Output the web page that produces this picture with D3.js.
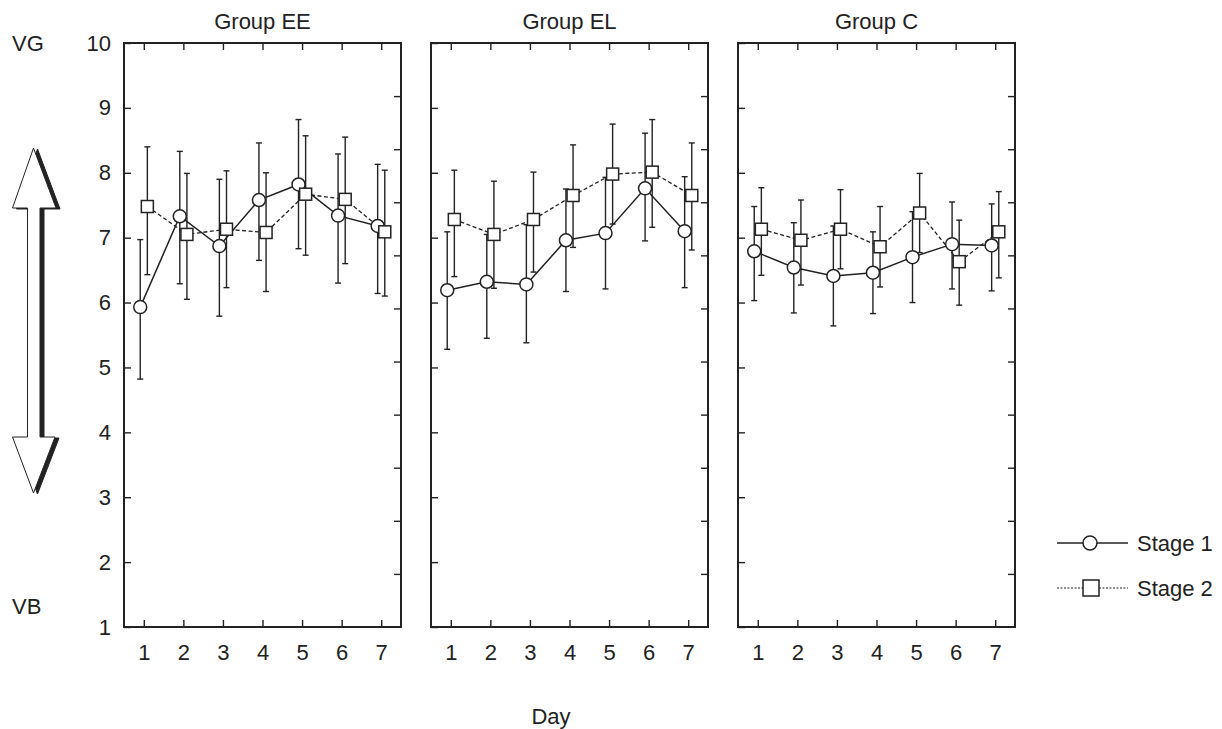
<!DOCTYPE html>
<html>
<head>
<meta charset="utf-8">
<script src="https://cdn.jsdelivr.net/npm/d3@7"></script>
<style>
  body { margin: 0; background: #fff; }
  text { font-family: "Liberation Sans", Arial, Helvetica, sans-serif; fill: #222; }
  .tick line { stroke: #222; stroke-width: 1.4; }
</style>
</head>
<body>
<div id="chart"></div>
<script>
// Panels, days and axis ticks.
var groups = ["Group EE", "Group EL", "Group C"];
var days = [1, 2, 3, 4, 5, 6, 7];
var yTicks = [1, 2, 3, 4, 5, 6, 7, 8, 9, 10];
var rightTicks = [1, 2, 3, 4, 5, 6, 7, 8, 9, 10];

// Stage 1 (circles): mean and error bar ends, one row per group (EE, EL, C).
var stage1Mean = [
  [5.93, 7.33, 6.87, 7.58, 7.82, 7.34, 7.18],
  [6.19, 6.32, 6.28, 6.96, 7.07, 7.76, 7.10],
  [6.79, 6.54, 6.41, 6.46, 6.70, 6.90, 6.88]
];
var stage1Lo = [
  [4.82, 6.29, 5.79, 6.65, 6.83, 6.30, 6.14],
  [5.28, 5.45, 5.38, 6.17, 6.21, 6.95, 6.23],
  [6.03, 5.84, 5.64, 5.83, 6.00, 6.21, 6.18]
];
var stage1Hi = [
  [6.97, 8.33, 7.90, 8.46, 8.82, 8.29, 8.13],
  [7.09, 7.05, 7.20, 7.75, 7.93, 8.61, 7.94],
  [7.48, 7.23, 7.18, 7.09, 7.40, 7.55, 7.52]
];

// Stage 2 (squares).
var stage2Mean = [
  [7.48, 7.05, 7.13, 7.08, 7.67, 7.59, 7.09],
  [7.28, 7.05, 7.28, 7.65, 7.98, 8.01, 7.65],
  [7.13, 6.96, 7.13, 6.86, 7.38, 6.63, 7.09]
];
var stage2Lo = [
  [6.43, 6.05, 6.23, 6.17, 6.73, 6.60, 6.10],
  [6.40, 6.22, 6.47, 6.85, 7.21, 7.16, 6.81],
  [6.42, 6.27, 6.52, 6.24, 6.77, 5.96, 6.38]
];
var stage2Hi = [
  [8.40, 7.99, 8.03, 8.00, 8.57, 8.55, 8.04],
  [8.04, 7.87, 8.01, 8.43, 8.75, 8.82, 8.46],
  [7.77, 7.58, 7.74, 7.48, 7.99, 7.27, 7.71]
];

var legendLabels = ["Stage 1", "Stage 2"];

// Layout.
var width = 1222, height = 729;
var plotTop = 43, plotBottom = 627;
var panelWidth = 277;
var panelLeft = d3.scaleLinear().domain([0, 1]).range([124, 431]);
var fontSize = "22px";

var x = d3.scaleLinear().domain([0.5, 7.5]).range([0, panelWidth]);
var y = d3.scaleLinear().domain([1, 10]).range([plotBottom, plotTop]);
var yRight = d3.scaleLinear().domain([0, 11]).range([plotBottom, plotTop]);

var ink = "#222";
var offset1 = -0.09, offset2 = 0.09;
var capHalf = 3;

var svg = d3.select("#chart").append("svg")
  .attr("width", width)
  .attr("height", height);

// Build rows for each stage of one group.
function rows(mean, lo, hi, g) {
  return days.map(function(d, i) {
    return { day: d, mean: mean[g][i], lo: lo[g][i], hi: hi[g][i] };
  });
}

groups.forEach(function(name, g) {
  var panel = svg.append("g")
    .attr("transform", "translate(" + panelLeft(g) + ",0)");

  // Title.
  panel.append("text")
    .attr("x", panelWidth / 2)
    .attr("y", 29)
    .attr("text-anchor", "middle")
    .style("font-size", fontSize)
    .text(name);

  // Axes with inward ticks.
  var left = panel.append("g")
    .call(d3.axisLeft(y).tickValues(yTicks).tickSizeInner(-7).tickSizeOuter(0).tickPadding(13)
      .tickFormat(g === 0 ? d3.format("d") : ""));
  var bottom = panel.append("g")
    .attr("transform", "translate(0," + plotBottom + ")")
    .call(d3.axisBottom(x).tickValues(days).tickSizeInner(-7).tickSizeOuter(0).tickPadding(17)
      .tickFormat(d3.format("d")));
  var topAxis = panel.append("g")
    .attr("transform", "translate(0," + plotTop + ")")
    .call(d3.axisTop(x).tickValues(days).tickSizeInner(-7).tickSizeOuter(0).tickFormat(""));
  var right = panel.append("g")
    .attr("transform", "translate(" + panelWidth + ",0)")
    .call(d3.axisRight(yRight).tickValues(rightTicks).tickSizeInner(-7).tickSizeOuter(0).tickFormat(""));

  [left, bottom, topAxis, right].forEach(function(a) {
    a.select(".domain").remove();
    a.selectAll("text").style("font-size", fontSize).attr("fill", ink);
  });

  // Frame.
  panel.append("rect")
    .attr("x", 0)
    .attr("y", plotTop)
    .attr("width", panelWidth)
    .attr("height", plotBottom - plotTop)
    .attr("fill", "none")
    .attr("stroke", ink)
    .attr("stroke-width", 2);

  var s1 = rows(stage1Mean, stage1Lo, stage1Hi, g);
  var s2 = rows(stage2Mean, stage2Lo, stage2Hi, g);

  function errorBars(data, off) {
    var bars = panel.append("g").selectAll("g")
      .data(data)
      .enter().append("g")
      .attr("stroke", ink)
      .attr("stroke-width", 1.4);
    bars.append("line")
      .attr("x1", function(d) { return x(d.day + off); })
      .attr("x2", function(d) { return x(d.day + off); })
      .attr("y1", function(d) { return y(d.lo); })
      .attr("y2", function(d) { return y(d.hi); });
    ["lo", "hi"].forEach(function(k) {
      bars.append("line")
        .attr("x1", function(d) { return x(d.day + off) - capHalf; })
        .attr("x2", function(d) { return x(d.day + off) + capHalf; })
        .attr("y1", function(d) { return y(d[k]); })
        .attr("y2", function(d) { return y(d[k]); });
    });
  }

  errorBars(s1, offset1);
  errorBars(s2, offset2);

  var line1 = d3.line()
    .x(function(d) { return x(d.day + offset1); })
    .y(function(d) { return y(d.mean); });
  var line2 = d3.line()
    .x(function(d) { return x(d.day + offset2); })
    .y(function(d) { return y(d.mean); });

  panel.append("path")
    .datum(s1)
    .attr("d", line1)
    .attr("fill", "none")
    .attr("stroke", ink)
    .attr("stroke-width", 1.5);

  panel.append("path")
    .datum(s2)
    .attr("d", line2)
    .attr("fill", "none")
    .attr("stroke", ink)
    .attr("stroke-width", 1.3)
    .attr("stroke-dasharray", "4,2.5");

  panel.append("g").selectAll("circle")
    .data(s1)
    .enter().append("circle")
    .attr("cx", function(d) { return x(d.day + offset1); })
    .attr("cy", function(d) { return y(d.mean); })
    .attr("r", 6.5)
    .attr("fill", "#fff")
    .attr("stroke", ink)
    .attr("stroke-width", 1.5);

  panel.append("g").selectAll("rect")
    .data(s2)
    .enter().append("rect")
    .attr("x", function(d) { return x(d.day + offset2) - 6; })
    .attr("y", function(d) { return y(d.mean) - 6; })
    .attr("width", 12)
    .attr("height", 12)
    .attr("fill", "#fff")
    .attr("stroke", ink)
    .attr("stroke-width", 1.5);
});

// X-axis title.
svg.append("text")
  .attr("x", 551)
  .attr("y", 724)
  .attr("text-anchor", "middle")
  .style("font-size", fontSize)
  .text("Day");

// VG / VB labels and the double arrow.
svg.append("text").attr("x", 12).attr("y", 51).style("font-size", fontSize).text("VG");
svg.append("text").attr("x", 12).attr("y", 614).style("font-size", fontSize).text("VB");

var arrowPts = [
  [33.5, 148], [56, 208], [40, 208], [40, 437], [55, 437],
  [33.5, 493], [12.5, 437], [27.5, 437], [27.5, 208], [12.5, 208]
];
var arrowPath = d3.line()(arrowPts) + "Z";

svg.append("path")
  .attr("d", arrowPath)
  .attr("transform", "translate(4,1)")
  .attr("fill", ink)
  .attr("stroke", ink)
  .attr("stroke-width", 1);

svg.append("path")
  .attr("d", arrowPath)
  .attr("fill", "#fff")
  .attr("stroke", ink)
  .attr("stroke-width", 1);

// Legend.
var legend = svg.append("g");
var legendY = [543, 588];

legend.append("line")
  .attr("x1", 1057).attr("x2", 1128)
  .attr("y1", legendY[0]).attr("y2", legendY[0])
  .attr("stroke", ink).attr("stroke-width", 1.5);
legend.append("circle")
  .attr("cx", 1090).attr("cy", legendY[0]).attr("r", 7)
  .attr("fill", "#fff").attr("stroke", ink).attr("stroke-width", 1.5);

legend.append("line")
  .attr("x1", 1057).attr("x2", 1128)
  .attr("y1", legendY[1]).attr("y2", legendY[1])
  .attr("stroke", ink).attr("stroke-width", 1)
  .attr("stroke-dasharray", "2,1.5");
legend.append("rect")
  .attr("x", 1083).attr("y", legendY[1] - 8).attr("width", 16).attr("height", 16)
  .attr("fill", "#fff").attr("stroke", ink).attr("stroke-width", 1.5);

legend.selectAll("text")
  .data(legendLabels)
  .enter().append("text")
  .attr("x", 1137)
  .attr("y", function(d, i) { return legendY[i] + 8; })
  .style("font-size", fontSize)
  .text(function(d) { return d; });
</script>
</body>
</html>
